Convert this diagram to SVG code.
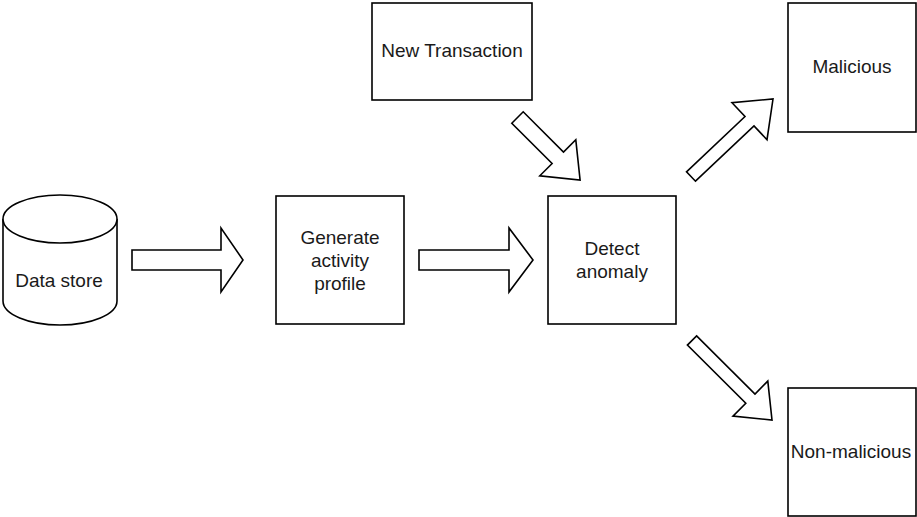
<svg xmlns="http://www.w3.org/2000/svg" width="917" height="517" viewBox="0 0 917 517">
  <style>
    .box { fill: #ffffff; stroke: #000000; stroke-width: 1.6; }
    .arrow { fill: #ffffff; stroke: #000000; stroke-width: 1.6; stroke-linejoin: miter; }
    .label { font-family: "Liberation Sans", Arial, sans-serif; font-size: 19px; fill: #1a1a1a; text-anchor: middle; }
  </style>
  <rect width="917" height="517" fill="#ffffff"/>

  <!-- block arrows between the stages -->
  <g id="connectors">
    <polygon class="arrow" points="132,250 221,250 221,228 243,260 221,292 221,270 132,270"/>
    <polygon class="arrow" points="419,250 509,250 509,228 533,260 509,292 509,270 419,270"/>
    <polygon class="arrow" points="511.8,123.2 523.2,111.8 563.5,152.1 575.8,139.8 580.1,180.1 539.8,175.8 552.1,163.5"/>
    <polygon class="arrow" points="686.5,171.8 745,116.5 732,102.7 773,99 767,139.7 754,125.9 695.5,181.2"/>
    <polygon class="arrow" points="696.6,335.9 755,394 767.8,381.1 772,420 733,416.1 745.8,403.2 687.4,345.1"/>
  </g>

  <g id="data-store">
    <path class="box" d="M3,219 A57,24 0 0 1 117,219 L117,301 A57,24 0 0 1 3,301 Z"/>
    <path class="box" fill="none" d="M3,219 A57,24 0 0 0 117,219"/>
    <text class="label" x="59" y="287">Data store</text>
  </g>

  <g id="generate-profile">
    <rect class="box" x="276" y="196" width="128" height="128"/>
    <text class="label" x="340" y="244">Generate</text>
    <text class="label" x="340" y="267">activity</text>
    <text class="label" x="340" y="290">profile</text>
  </g>

  <g id="detect-anomaly">
    <rect class="box" x="548" y="196" width="128" height="128"/>
    <text class="label" x="612" y="255">Detect</text>
    <text class="label" x="612" y="278">anomaly</text>
  </g>

  <g id="new-transaction">
    <rect class="box" x="372" y="3" width="160" height="97"/>
    <text class="label" x="452" y="57">New Transaction</text>
  </g>

  <g id="malicious">
    <rect class="box" x="788" y="3" width="128" height="129"/>
    <text class="label" x="852" y="73">Malicious</text>
  </g>

  <g id="non-malicious">
    <rect class="box" x="788" y="388" width="128" height="128"/>
    <text class="label" x="851" y="458">Non-malicious</text>
  </g>
</svg>
